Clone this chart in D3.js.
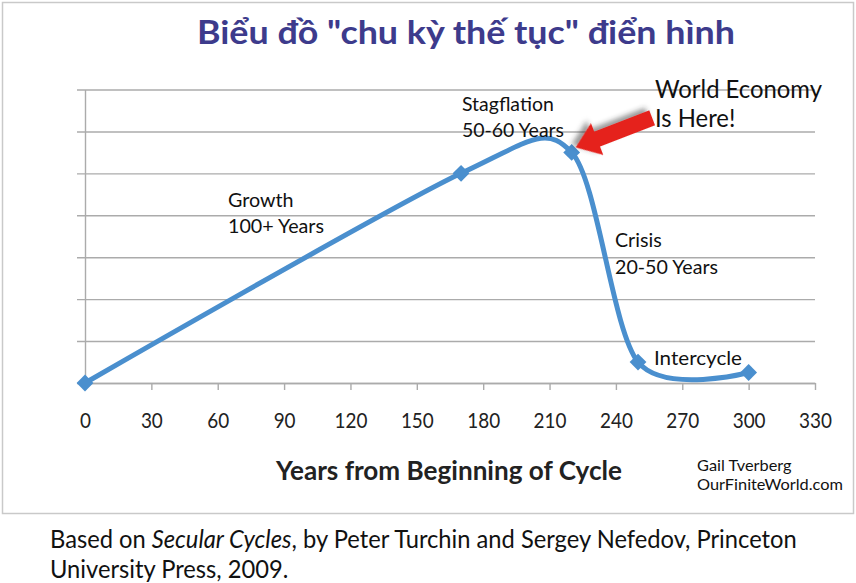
<!DOCTYPE html>
<html>
<head>
<meta charset="utf-8">
<script src="https://cdn.jsdelivr.net/npm/d3@7"></script>
<style>
  html, body { margin: 0; padding: 0; background: #fff; }
  svg { display: block; }
  text { font-family: Lato, "Open Sans", sans-serif; fill: #111; }
</style>
</head>
<body>
<svg id="chart" width="856" height="583"></svg>
<script>
// ---- data ----
const years  = [0, 170, 220, 250, 300];
const values = [0, 5, 5.5, 0.5, 0.25];
const xTicks = [0, 30, 60, 90, 120, 150, 180, 210, 240, 270, 300, 330];
const yGrid  = [0, 1, 2, 3, 4, 5, 6, 7];
const titleText = 'Biểu đồ "chu kỳ thế tục" điển hình';
const xAxisTitle = "Years from Beginning of Cycle";
const phaseGrowth = ["Growth", "100+ Years"];
const phaseStag = ["Stagflation", "50-60 Years"];
const phaseCrisis = ["Crisis", "20-50 Years"];
const phaseInter = ["Intercycle"];
const callout = ["World Economy", "Is Here!"];
const credit = ["Gail Tverberg", "OurFiniteWorld.com"];

const svg = d3.select("#chart");

// drop shadow filter
const defs = svg.append("defs");
const f = defs.append("filter").attr("id", "shadow").attr("x", "-30%").attr("y", "-30%").attr("width", "160%").attr("height", "160%");
f.append("feDropShadow").attr("dx", 3).attr("dy", 4).attr("stdDeviation", 2.5).attr("flood-color", "#333").attr("flood-opacity", 0.5);

// outer frame
svg.append("rect").attr("x", 2.5).attr("y", 2.5).attr("width", 851).attr("height", 511)
  .attr("fill", "none").attr("stroke", "#c9c9c9").attr("stroke-width", 1.5);

// scales
const x = d3.scaleLinear().domain([0, 330]).range([85, 815]);
const y = d3.scaleLinear().domain([0, 7]).range([383, 89.5]);

// text block: cap height sets font size, width sets horizontal compression
function block(lines, left, base, gap, width, cap, opts = {}) {
  const ratio = opts.ratio || 0.72;
  const fs = cap / ratio;
  const g = svg.append("g");
  const els = lines.map((s, i) => {
    const t = g.append("text").attr("x", 0).attr("y", i * gap).attr("font-size", fs);
    if (opts.family) t.attr("font-family", opts.family);
    if (opts.weight) t.attr("font-weight", opts.weight);
    if (opts.color) t.style("fill", opts.color);
    if (typeof s === "string") t.text(s);
    else s.forEach(p => t.append("tspan").attr("font-style", p.italic ? "italic" : null).text(p.text));
    return t;
  });
  const w = d3.max(els, e => e.node().getComputedTextLength());
  const sx = width / w;
  g.attr("transform", `translate(${left},${base}) scale(${sx},1)`);
  return g;
}

// title
block([titleText], 197, 44, 0, 538, 23, {family: "'Open Sans', 'Noto Sans', sans-serif", weight: 700, color: "#3d3b8c", ratio: 0.714});

// gridlines (y axis with ticks outward)
const gridColor = "#ababab";
const yAxis = d3.axisLeft(y).tickValues(yGrid).tickSize(-(815 - 85)).tickFormat("").tickSizeOuter(0);
const gy = svg.append("g").attr("transform", "translate(85,0)").call(yAxis);
gy.selectAll(".tick line").attr("stroke", gridColor).attr("stroke-width", 1.4).attr("x1", -8);
gy.select(".domain").attr("stroke", gridColor).attr("stroke-width", 1.4);

// x axis
const xAxis = d3.axisBottom(x).tickValues(xTicks).tickSize(7).tickSizeOuter(0).tickPadding(0);
const gx = svg.append("g").attr("transform", "translate(0,383)").call(xAxis);
gx.select(".domain").attr("stroke", gridColor).attr("stroke-width", 1.4);
gx.selectAll(".tick line").attr("stroke", gridColor).attr("stroke-width", 1.4);
gx.selectAll(".tick text").attr("font-family", "Lato, sans-serif").attr("font-size", 22)
  .style("fill", "#222").attr("y", 0).attr("dy", 0)
  .attr("transform", "translate(0,45) scale(0.86,1)");

// line
const pts = years.map((d, i) => [d, values[i]]);
const line = d3.line().x(d => x(d[0])).y(d => y(d[1])).curve(d3.curveCardinal.tension(0.12));
svg.append("path").datum(pts).attr("d", line).attr("fill", "none")
  .attr("stroke", "#4a8fce").attr("stroke-width", 5).attr("stroke-linecap", "round");

// markers
const sym = d3.symbol().type(d3.symbolDiamond2).size(180);
svg.selectAll(".mk").data(pts).enter().append("path")
  .attr("d", sym).attr("transform", d => `translate(${x(d[0])},${y(d[1])})`)
  .attr("fill", "#4a8fce");

// labels
block(phaseGrowth, 228, 207, 26, 96, 14.5);
block(phaseStag, 462, 111, 26, 102, 14.5);
block(phaseCrisis, 615, 247, 27, 103, 14.5);
block(phaseInter, 654, 365, 0, 88, 14.5);
block(callout, 655, 98, 29, 167, 18);
block(credit, 697, 471, 19, 146, 11);

// arrow pointing to the (220, 5.5) point
const tipX = x(220) + 4, tipY = y(5.5) - 5;
const L = 82, sh = 8, hl = 23, hw = 17;
const arrowPath = `M0,0 L${-hl},${-hw} L${-hl},${-sh} L${-L},${-sh} L${-L},${sh} L${-hl},${sh} L${-hl},${hw} Z`;
svg.append("path").attr("d", arrowPath)
  .attr("transform", `translate(${tipX},${tipY}) rotate(${Math.atan2(29, -75) * 180 / Math.PI})`)
  .attr("fill", "#e5221e").attr("filter", "url(#shadow)");

// x-axis title
block([xAxisTitle], 276, 480, 0, 346, 18.5, {weight: 700, color: "#222"});

// footer
block([[{text: "Based on "}, {text: "Secular Cycles", italic: true}, {text: ", by Peter Turchin and Sergey Nefedov, Princeton"}],
       "University Press, 2009."], 50, 548, 30, 747, 17.5);
</script>
</body>
</html>
